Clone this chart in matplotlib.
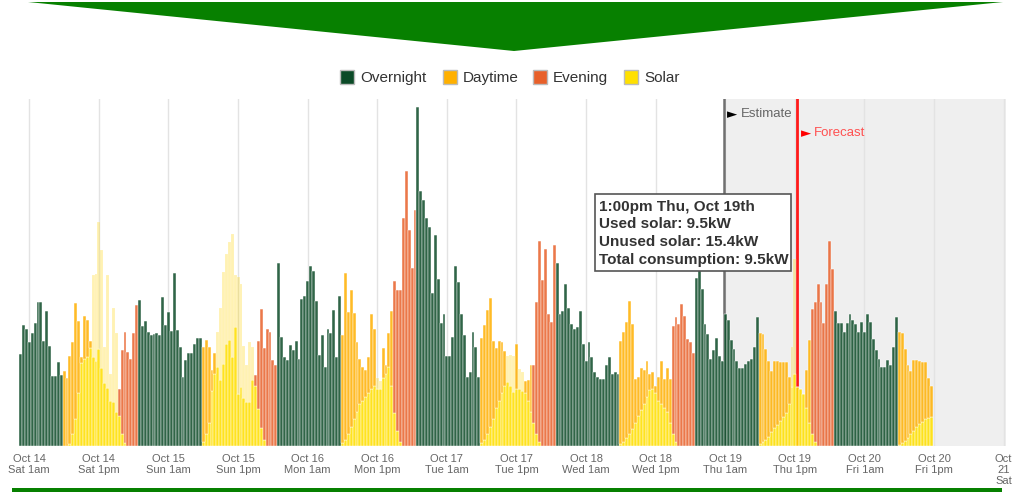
import numpy as np
import matplotlib
matplotlib.use("Agg")
import matplotlib.pyplot as plt
from matplotlib.patches import Polygon, Rectangle

plt.rcParams["font.family"] = ["Liberation Sans", "DejaVu Sans"]

W, H = 1027, 502

# half-hourly consumption in kW, first bar = Oct 13 11:30pm
night_13 = [12.2, 16.1, 15.6, 13.8, 15.0, 16.3, 19.1, 19.1, 14.0, 17.9, 13.3, 9.3, 9.3, 11.1, 9.4]

day_14 = [9.9, 9.0, 12.0, 13.8, 19.0, 16.6, 11.8, 17.3, 16.7, 14.0, 11.8, 11.3, 12.9, 10.4, 8.3, 7.7, 5.9, 5.8]
eve_14 = [4.5, 7.6, 12.7, 15.1, 12.5, 11.6, 15.0, 18.7]
night_14 = [19.4, 16.0, 16.6, 15.2, 14.8, 14.9, 15.0, 14.8, 19.8, 16.1, 17.8, 15.3, 23.0, 15.4, 13.1, 9.2,
            11.4, 12.3, 12.3, 13.6, 14.4, 14.4]

day_15 = [13.2, 14.1, 13.1, 10.1, 12.4, 10.5, 8.7, 10.9, 13.6, 14.1, 11.8, 15.8, 6.9, 7.8, 6.4, 5.8, 5.8, 8.7]
eve_15 = [9.4, 14.0, 18.2, 13.0, 15.6, 15.2, 11.4, 10.7]
night_15 = [24.3, 14.5, 11.8, 11.4, 13.4, 12.7, 14.0, 11.6, 19.5, 19.9, 21.9, 23.9, 23.3, 19.3, 12.1, 14.8,
            10.5, 15.5, 15.0, 18.1, 11.8, 19.9]

day_16 = [14.8, 23.0, 17.8, 20.8, 17.7, 13.8, 11.6, 10.5, 10.1, 11.8, 17.6, 15.6, 7.6, 7.6, 13.0, 10.7, 15.0, 17.9]
eve_16 = [21.9, 20.8, 20.8, 30.3, 36.6, 28.8, 23.7, 31.4]
night_16 = [45.2, 33.9, 32.8, 30.4, 29.2, 20.3, 28.1, 22.2, 16.4, 17.6, 11.9, 12.0, 14.5, 23.9, 21.8, 17.6,
            14.8, 9.1, 9.8, 15.1, 13.1, 9.2]

day_17 = [14.4, 16.1, 18.1, 19.7, 14.0, 13.0, 13.9, 13.8, 12.6, 8.5, 8.0, 7.2, 13.6, 7.5, 7.3, 8.6, 8.8, 10.7]
eve_17 = [10.8, 19.1, 27.3, 22.1, 26.2, 17.6, 16.5, 26.7]
night_17 = [24.3, 17.6, 18.0, 21.6, 18.4, 16.2, 15.6, 15.8, 18.0, 13.6, 11.3, 13.8, 11.8, 9.8, 9.1, 8.9,
            8.9, 10.7, 11.8, 9.6, 9.8, 9.6]

day_18 = [14.0, 15.1, 16.5, 19.3, 16.2, 8.9, 9.1, 10.4, 10.1, 11.3, 9.6, 9.8, 8.0, 9.2, 11.3, 8.9, 10.4, 8.9]
eve_18 = [16.0, 17.1, 16.2, 18.9, 17.3, 14.2, 13.8, 12.4]
night_18 = [22.3, 23.4, 20.9, 16.2, 14.9, 11.6, 12.7, 14.4, 12.0, 11.3, 17.6, 16.7, 14.1, 12.9, 11.3, 10.4,
            10.4, 10.9, 11.3, 11.6, 13.1, 17.1]

day_19 = [15.0, 14.9, 12.9, 11.3, 10.0, 11.3, 11.3, 11.1, 11.1, 11.1, 9.1, 7.8, 9.5, 7.8, 7.6, 6.9, 10.1, 14.1]
eve_19 = [18.2, 19.2, 21.5, 19.1, 16.3, 21.6, 27.3, 23.6]
night_19 = [17.9, 16.4, 16.4, 15.2, 16.4, 17.6, 16.8, 16.2, 15.1, 16.5, 15.2, 17.6, 16.5, 14.2, 12.8, 11.6,
            10.5, 10.5, 11.4, 10.8, 13.2, 17.2]

day_20 = [15.1, 15.0, 12.9, 10.8, 10.0, 11.4, 11.4, 11.3, 11.2, 11.2, 9.0, 8.0]

# solar production (kW) from 7am each day
solar_14 = [0, 0, 0.2, 1.5, 3.5, 7.0, 11.0, 11.5, 11.8, 13.0, 22.7, 22.9, 29.8, 26.1, 13.1, 22.8, 9.6, 18.3,
            15.0, 4.0, 1.5, 0.3]
solar_15 = [0.5, 1.5, 3.0, 7.3, 9.6, 15.2, 18.3, 23.2, 25.6, 27.1, 28.2, 22.7, 22.5, 21.6, 13.3, 10.7, 13.8, 13.1,
            8.0, 4.9, 2.4, 0.7]
solar_16 = [0.3, 0.8, 1.5, 2.5, 3.5, 4.5, 5.5, 6.0, 6.5, 7.0, 7.6, 8.0, 9.0, 8.6, 9.0, 9.6, 10.5, 8.0,
            4.4, 2.0, 0.5]
solar_17 = [0.3, 0.8, 1.5, 2.5, 3.5, 5.0, 6.0, 7.0, 8.0, 12.0, 12.1, 12.0, 7.5, 10.2, 9.8, 7.0, 6.0, 4.5,
            3.0, 1.5, 0.5]
solar_18 = [0.2, 0.5, 1.0, 1.5, 2.2, 3.0, 4.0, 4.8, 5.5, 6.5, 7.4, 7.6, 7.0, 6.0, 5.5, 5.0, 4.5, 3.0,
            1.5, 0.5]
solar_19 = [0.2, 0.5, 0.8, 1.2, 1.8, 2.3, 2.8, 3.3, 3.8, 4.3, 5.5, 13.1, 24.9, 7.8, 7.6, 6.9, 5.0, 3.0,
            1.5, 0.5]
solar_20 = [0.1, 0.3, 0.6, 1.0, 1.5, 2.0, 2.5, 2.9, 3.2, 3.5, 3.7, 3.8]

tick_labels = ["Oct 14\nSat 1am", "Oct 14\nSat 1pm", "Oct 15\nSun 1am", "Oct 15\nSun 1pm",
               "Oct 16\nMon 1am", "Oct 16\nMon 1pm", "Oct 17\nTue 1am", "Oct 17\nTue 1pm",
               "Oct 18\nWed 1am", "Oct 18\nWed 1pm", "Oct 19\nThu 1am", "Oct 19\nThu 1pm",
               "Oct 20\nFri 1am", "Oct 20\nFri 1pm", "Oct\n21\nSat"]
legend_names = ["Overnight", "Daytime", "Evening", "Solar"]
hover_bar = 267  # 1:00pm Thu, Oct 19th

consumption = np.array(night_13 + day_14 + eve_14 + night_14 + day_15 + eve_15 + night_15
                       + day_16 + eve_16 + night_16 + day_17 + eve_17 + night_17
                       + day_18 + eve_18 + night_18 + day_19 + eve_19 + night_19 + day_20)
n = len(consumption)
solar = np.zeros(n)
for d, vals in enumerate([solar_14, solar_15, solar_16, solar_17, solar_18, solar_19, solar_20]):
    s = 15 + 48 * d
    solar[s:s + len(vals)] = vals

x = np.arange(n)
hour = (23.5 + 0.5 * x) % 24
cat = np.where((hour >= 7) & (hour < 16), 1, np.where((hour >= 16) & (hour < 20), 2, 0))

colors = ["#0b4a27", "#ffb000", "#e8602a", "#ffe000"]
unused_col = "#ffd400"

used = np.minimum(consumption, solar)
grid = consumption - used
unused = np.clip(solar - consumption, 0, None)

fig = plt.figure(figsize=(W / 100, H / 100), dpi=100)
ax = fig.add_axes([15 / W, (H - 446.7) / H, (1006 - 15) / W, (446.7 - 100) / H])

ax.axvspan(242.6, 345, color="#efefef", zorder=0, lw=0)
ticks = 3 + 24 * np.arange(len(tick_labels))
for t in ticks:
    ax.axvline(t, color="#e3e3e3", lw=1, zorder=0.5)

ax.axvline(242.6, color="#707070", lw=1.8, zorder=1)
ax.axvline(267.6, color="#ff1a1a", lw=2, zorder=1)

bar_kw = dict(width=1.0, edgecolor="white", linewidth=0.35, zorder=3)
ax.bar(x, used, color=colors[3], alpha=0.88, **bar_kw)
ax.bar(x, grid, bottom=used, color=[colors[c] for c in cat], alpha=0.85, **bar_kw)
ax.bar(x, unused, bottom=consumption, color=unused_col, alpha=0.3, **bar_kw)

ax.set_xlim(-1.93, 339.8)
ax.set_ylim(0, 346.7 / 7.5)
ax.set_yticks([])
ax.set_xticks(ticks)
ax.set_xticklabels(tick_labels, fontsize=8, color="#666666", linespacing=1.15)
ax.tick_params(axis="x", length=0, pad=5)
for sp in ax.spines.values():
    sp.set_visible(False)

ax.text(243.6, 44.3, "\u25ba", fontsize=9.5, color="black", va="center", family=["DejaVu Sans"])
ax.text(248.3, 44.3, "Estimate", fontsize=9.5, color="#666666", va="center")
ax.text(269.0, 41.8, "\u25ba", fontsize=9.5, color="#ff0000", va="center", family=["DejaVu Sans"])
ax.text(273.7, 41.8, "Forecast", fontsize=9.5, color="#ff5050", va="center")

# tooltip for the hovered bar
tip = [
    "1:00pm Thu, Oct 19th",
    "Used solar: %.1fkW" % used[hover_bar],
    "Unused solar: %.1fkW" % unused[hover_bar],
    "Total consumption: %.1fkW" % consumption[hover_bar],
]
fig.add_artist(Rectangle((595 / W, 1 - 272 / H), 196 / W, 77 / H, transform=fig.transFigure,
                         fc="white", ec="#555555", lw=1.2, zorder=10))
for k, line in enumerate(tip):
    fig.text(599 / W, 1 - (206.5 + 17.8 * k) / H, line, fontsize=11, fontweight="bold",
             color="#333333", va="center", zorder=11)

# legend
sq_x = [340, 443, 533, 624]
for k, name in enumerate(legend_names):
    fig.add_artist(Rectangle((sq_x[k] / W, 1 - 85 / H), 14 / W, 14 / H, transform=fig.transFigure,
                             fc=colors[k], ec="#bbbbbb", lw=1))
    fig.text((sq_x[k] + 20) / W, 1 - 78 / H, name, fontsize=11, color="#333333", va="center")

# green banner and bottom rule
fig.add_artist(Polygon([(28 / W, 1 - 3 / H), (1003 / W, 1 - 3 / H), (514 / W, 1 - 52 / H)],
                       closed=True, transform=fig.transFigure, fc="#078000", ec="none"))
fig.add_artist(Rectangle((12 / W, 1 - 493 / H), 990 / W, 4 / H, transform=fig.transFigure,
                         fc="#078000", ec="none"))

fig.savefig("out.png", dpi=100)
